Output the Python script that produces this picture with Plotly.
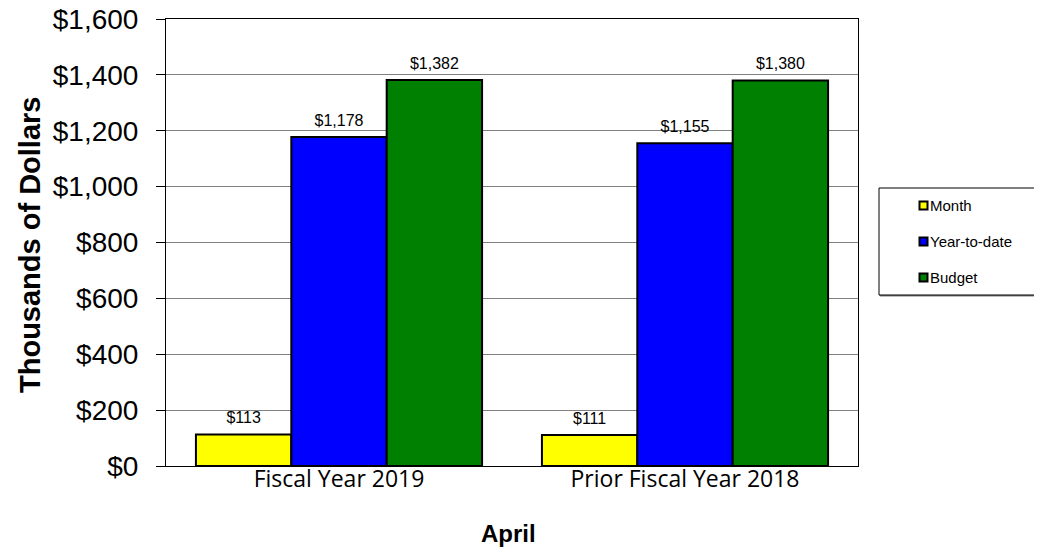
import plotly.graph_objects as go

categories = ["Fiscal Year 2019", "Prior Fiscal Year 2018"]
month = [113, 111]
ytd = [1178, 1155]
budget = [1382, 1380]
series_names = ["Month", "Year-to-date", "Budget"]
colors = ["#FFFF00", "#0000FF", "#008000"]
tick_vals = [0, 200, 400, 600, 800, 1000, 1200, 1400, 1600]
tick_text = ["$0", "$200", "$400", "$600", "$800", "$1,000", "$1,200", "$1,400", "$1,600"]

# page offset (body margin) compensation
OFF = 8
PL, PT, PW, PH = 166, 19, 692, 447  # target plot area in screenshot px

fig = go.Figure()
for i, (name, vals, col) in enumerate(zip(series_names, [month, ytd, budget], colors)):
    fig.add_trace(go.Bar(
        x=categories, y=vals, name=name,
        marker=dict(color=col, line=dict(color="black", width=2)),
        offsetgroup=str(i), alignmentgroup="a",
        showlegend=False,
    ))
    fig.add_trace(go.Scatter(
        x=categories, y=vals, mode="markers+text",
        text=["${:,}".format(v) for v in vals],
        textposition="top center",
        textfont=dict(family="Arial", size=16, color="black"),
        marker=dict(size=10, opacity=0),
        offsetgroup=str(i), alignmentgroup="a",
        cliponaxis=False, showlegend=False, hoverinfo="skip",
    ))

fig.update_layout(
    width=1042, height=558,
    margin=dict(l=PL - OFF, r=1042 - (PL - OFF) - PW, t=PT - OFF, b=558 - (PT - OFF) - PH),
    paper_bgcolor="white", plot_bgcolor="white",
    barmode="group", bargap=0.173, bargroupgap=0,
    scattermode="group", scattergap=0.173,
    font=dict(family="Arial", color="black"),
    showlegend=False,
    xaxis=dict(
        showline=True, linecolor="black", linewidth=1, mirror=True,
        ticks="", tickfont=dict(family="Open Sans", size=23, color="black"),
        automargin=False, ticklabelstandoff=-8, ticklabeloverflow="allow",
    ),
    yaxis=dict(
        range=[0, 1600], tickvals=tick_vals, ticktext=tick_text,
        showgrid=True, gridcolor="#808080", gridwidth=1,
        showline=True, linecolor="black", linewidth=1, mirror=True,
        ticks="outside", ticklen=9, tickcolor="black",
        tickfont=dict(family="Arial", size=28, color="black"),
        zeroline=False, automargin=False, ticklabelstandoff=12,
        ticklabeloverflow="allow",
    ),
)

def px_x(px):
    return (px - PL) / PW
def px_y(py):
    return (PT + PH - py) / PH

# axis titles
fig.add_annotation(text="<b>Thousands of Dollars</b>", xref="paper", yref="paper",
                   x=px_x(30), y=px_y(245), textangle=-90, showarrow=False,
                   xanchor="center", yanchor="middle",
                   font=dict(family="Arial", size=29, color="black"))
fig.add_annotation(text="<b>April</b>", xref="paper", yref="paper",
                   x=px_x(508), y=px_y(533), showarrow=False,
                   xanchor="center", yanchor="middle",
                   font=dict(family="Arial", size=24, color="black"))

# legend box (drawn manually)
fig.add_shape(type="rect", xref="paper", yref="paper",
              x0=px_x(880), x1=px_x(1038), y0=px_y(296), y1=px_y(189),
              line=dict(color="#808080", width=1), fillcolor="#808080", layer="above")
fig.add_shape(type="rect", xref="paper", yref="paper",
              x0=px_x(879), x1=px_x(1037), y0=px_y(295), y1=px_y(188),
              line=dict(color="black", width=1), fillcolor="white", layer="above")
for k, (name, col) in enumerate(zip(series_names, colors)):
    cy = 205.5 + 36 * k
    fig.add_shape(type="rect", xref="paper", yref="paper",
                  x0=px_x(919.5), x1=px_x(927.5), y0=px_y(cy + 4), y1=px_y(cy - 4),
                  line=dict(color="black", width=2), fillcolor=col, layer="above")
    fig.add_annotation(text=name, xref="paper", yref="paper",
                       x=px_x(928), y=px_y(cy), xanchor="left", yanchor="middle",
                       showarrow=False, font=dict(family="Arial", size=15, color="black"))

fig.write_html("out.html")
